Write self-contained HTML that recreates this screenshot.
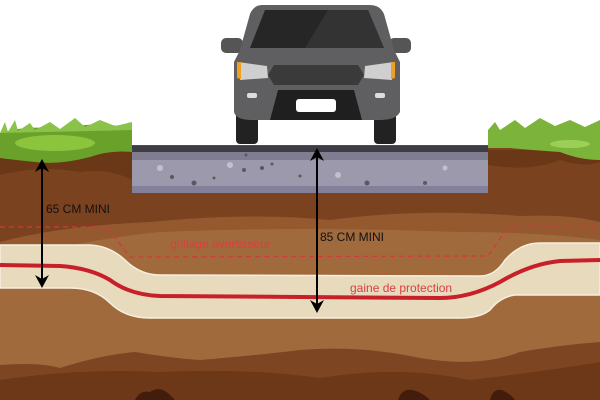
<!DOCTYPE html>
<html><head><meta charset="utf-8"><style>
html,body{margin:0;padding:0;background:#fff}
svg{display:block}
text{font-family:"Liberation Sans",sans-serif}
</style></head><body>
<svg width="600" height="400" viewBox="0 0 600 400" xmlns="http://www.w3.org/2000/svg">
<rect width="600" height="400" fill="#fff"/>
<rect x="0" y="145" width="600" height="255" fill="#7b4220"/>
<path d="M0 175 Q40 165 80 172 Q110 168 132 180 L132 150 L0 150Z" fill="#6a3717"/>
<path d="M488 165 Q530 172 560 160 Q585 168 600 162 L600 150 L488 150Z" fill="#6a3717"/>
<path d="M0 242 Q60 226 150 222 Q250 212 330 220 Q420 208 520 216 Q570 214 600 222 L600 400 L0 400Z" fill="#94592f"/>
<path d="M0 262 Q80 240 160 232 Q300 226 460 232 Q540 232 600 240 L600 400 L0 400Z" fill="#a16a3d"/>
<path d="M0 245 L90 245 Q110 246 125 260 Q140 275 160 275 L480 276 Q495 276 505 260 Q520 243 540 243 L600 243 L600 295 L515 295 Q500 297 490 310 Q480 318 460 318 L150 318 Q125 318 110 303 Q95 288 70 288 L0 288Z" fill="#e8dabd" stroke="#f6efe0" stroke-width="1.5"/>
<path d="M0 265 L60 266 Q90 268 110 280 Q130 295 160 296 L440 298 Q470 298 500 282 Q530 264 560 261 L600 260" fill="none" stroke="#c8202a" stroke-width="4"/>
<path d="M0 227 L107 227 L130 257 L488 256 L508 227 L600 227" fill="none" stroke="#d13a3a" stroke-width="1.3" stroke-dasharray="5,4"/>
<path d="M0 365 Q40 362 60 368 Q100 355 135 352 Q170 358 200 360 Q260 355 300 350 Q360 345 420 358 Q480 368 520 352 Q560 345 600 342 L600 400 L0 400Z" fill="#7d4522"/>
<path d="M0 380 Q80 368 160 372 Q250 368 320 378 Q400 365 470 380 Q540 372 600 362 L600 400 L0 400Z" fill="#6c3818"/>
<path d="M135 400 Q140 390 150 392 Q160 385 170 395 L175 400Z" fill="#431d0b"/>
<path d="M398 400 Q402 388 412 390 Q422 392 430 400Z" fill="#431d0b"/>
<path d="M490 400 Q493 388 502 390 Q512 395 515 400Z" fill="#431d0b"/>
<path d="M0 133 Q30 124 60 130 Q90 120 132 128 L132 152 Q110 150 90 157 Q60 165 35 162 Q15 160 0 158Z" fill="#6aa12a"/>
<ellipse cx="55" cy="143" rx="40" ry="8" fill="#8cc43e"/>
<path d="M0 133 L5 122 L8 132 L15 120 L18 131 L30 123 L35 130 L50 122 L60 129 L75 118 L85 127 L100 120 L115 126 L132 122 L132 130Z" fill="#8bc34a"/>
<path d="M488 130 L495 122 L500 130 L515 120 L525 128 L540 118 L555 126 L570 120 L585 127 L600 120 L600 160 Q580 160 560 152 Q530 150 510 148 L488 148Z" fill="#7cb33a"/>
<ellipse cx="570" cy="144" rx="20" ry="4" fill="#9ccf55"/>
<rect x="132" y="146" width="356" height="47" fill="#9b99ab"/>
<rect x="132" y="146" width="356" height="6" fill="#3e3d45"/>
<rect x="132" y="152" width="356" height="8" fill="#7f7d8f"/>
<rect x="132" y="186" width="356" height="7" fill="#82809a"/>
<g fill="#5a5868">
<circle cx="172" cy="177" r="2"/><circle cx="194" cy="183" r="2.5"/><circle cx="214" cy="178" r="1.5"/><circle cx="244" cy="170" r="2"/><circle cx="262" cy="168" r="2"/><circle cx="300" cy="176" r="1.5"/><circle cx="367" cy="183" r="2.5"/><circle cx="425" cy="183" r="2"/><circle cx="246" cy="155" r="1.5"/><circle cx="272" cy="164" r="1.5"/>
</g>
<g fill="#c2c0d0"><circle cx="160" cy="168" r="3"/><circle cx="230" cy="165" r="3"/><circle cx="338" cy="175" r="3"/><circle cx="445" cy="168" r="2.5"/></g>
<rect x="236" y="108" width="22" height="36" rx="4" fill="#222"/>
<rect x="374" y="108" width="22" height="36" rx="4" fill="#222"/>
<rect x="221" y="38" width="22" height="15" rx="5" fill="#555"/>
<rect x="389" y="38" width="22" height="15" rx="5" fill="#555"/>
<path d="M262 5 L370 5 Q380 5 384 14 L394 50 L400 62 L400 112 Q396 120 380 120 L252 120 Q236 120 234 112 L234 62 L240 50 L250 14 Q254 5 262 5Z" fill="#5f5f61"/>
<path d="M265 10 L368 10 L384 48 L250 48Z" fill="#262626"/>
<path d="M328 10 L368 10 L384 48 L305 48Z" fill="#333"/>
<path d="M274 65 L358 65 L364 75 L358 85 L274 85 L268 75Z" fill="#3a3a3a"/>
<path d="M238 62 L267 66 L268 78 L240 80Z" fill="#cfcfcf"/><path d="M237 62 L241 62 L241 79 L237 78Z" fill="#f0a020"/>
<path d="M394 62 L365 66 L364 78 L392 80Z" fill="#cfcfcf"/><path d="M395 62 L391 62 L391 79 L395 78Z" fill="#f0a020"/>
<path d="M278 90 L354 90 L362 120 L270 120Z" fill="#1f1f1f"/>
<rect x="296" y="99" width="40" height="13" rx="3" fill="#fff"/>
<rect x="247" y="93" width="10" height="5" rx="2" fill="#ddd"/><rect x="375" y="93" width="10" height="5" rx="2" fill="#ddd"/>
<g stroke="#000" stroke-width="2"><line x1="42" y1="168" x2="42" y2="280"/><line x1="317" y1="157" x2="317" y2="305"/></g>
<g fill="#000">
<path d="M42 159 L35 172 L42 168 L49 172Z"/><path d="M42 288 L35 275 L42 279 L49 275Z"/>
<path d="M317 148 L310 161 L317 157 L324 161Z"/><path d="M317 313 L310 300 L317 304 L324 300Z"/>
</g>
<text x="46" y="213" font-size="12" fill="#111">65 CM MINI</text>
<text x="320" y="241" font-size="12" fill="#111">85 CM MINI</text>
<text x="170" y="248" font-size="12" fill="#d9403e">grillage avertisseur</text>
<text x="350" y="292" font-size="12" fill="#d9403e">gaine de protection</text>
</svg>
</body></html>
